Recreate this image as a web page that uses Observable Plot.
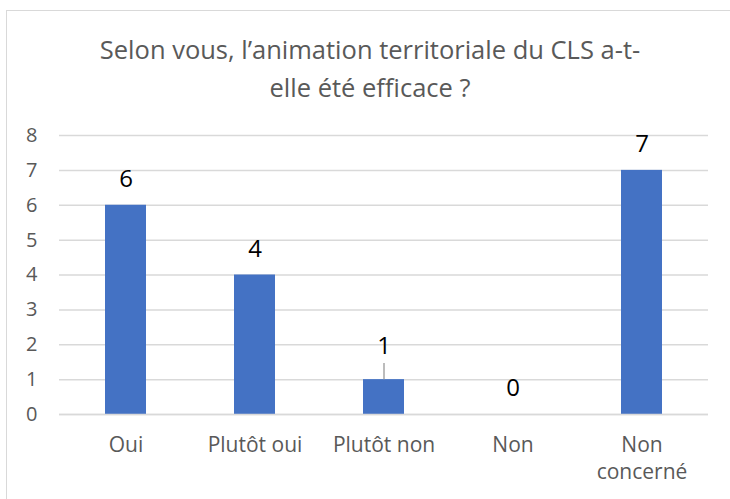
<!DOCTYPE html>
<html>
<head>
<meta charset="utf-8">
<script src="https://cdn.jsdelivr.net/npm/d3@7"></script>
<script src="https://cdn.jsdelivr.net/npm/@observablehq/plot@0.6"></script>
<style>
  html, body { margin: 0; padding: 0; background: #fff; overflow: hidden; }
  #wrap { position: relative; width: 730px; height: 499px; overflow: hidden; font-family: "Open Sans", sans-serif; }
  #frame { position: absolute; left: 6px; top: 10px; width: 760px; height: 520px; border: 1.5px solid #d9d9d9; box-sizing: border-box; }
  #title { position: absolute; left: 0; top: 30px; width: 740px; text-align: center; font-size: 25.5px; line-height: 38px; color: #595959; }
  #chart { position: absolute; left: 0; top: 120px; }
</style>
</head>
<body>
<div id="wrap">
  <div id="frame"></div>
  <div id="title"></div>
  <div id="chart"></div>
</div>
<script>
const titleLines = ["Selon vous, l’animation territoriale du CLS a-t-", "elle été efficace ?"];
const categories = ["Oui", "Plutôt oui", "Plutôt non", "Non", "Non concerné"];
const values = [6, 4, 1, 0, 7];
const yTicks = [0, 1, 2, 3, 4, 5, 6, 7, 8];
const movedLabel = "Plutôt non"; // label displaced with a leader line in the original

document.getElementById("title").innerHTML = titleLines.join("<br>");

const data = categories.map((c, i) => ({cat: c, v: values[i]}));
const normal = data.filter(d => d.cat !== movedLabel);
const moved = data.filter(d => d.cat === movedLabel);

const chart = Plot.plot({
  width: 730,
  height: 379,
  marginTop: 15,
  marginBottom: 85,
  marginLeft: 59,
  marginRight: 22,
  style: {fontFamily: "'Open Sans', sans-serif", background: "transparent", overflow: "visible"},
  x: {domain: categories, paddingInner: 0.684, paddingOuter: 0.342, label: null},
  y: {domain: [0, 8], label: null},
  marks: [
    Plot.gridY(yTicks, {stroke: "#d9d9d9", strokeOpacity: 1, strokeWidth: 1.5}),
    Plot.axisY({ticks: yTicks, tickSize: 0, tickPadding: 22, fontSize: 20, fill: "#595959", label: null}),
    Plot.axisX({tickSize: 0, tickPadding: 18, fontSize: 21, fill: "#595959", lineHeight: 1.3,
      tickFormat: d => d === "Non concerné" ? "Non\nconcerné" : d, label: null}),
    Plot.barY(data, {x: "cat", y: "v", fill: "#4472c4"}),
    Plot.ruleY([0], {stroke: "#d9d9d9", strokeWidth: 1.5}),
    Plot.text(normal, {x: "cat", y: "v", text: d => String(d.v), dy: -26, fontSize: 24, fill: "#000"}),
    Plot.text(moved, {x: "cat", y: "v", text: d => String(d.v), dy: -33, fontSize: 24, fill: "#000"}),
    Plot.ruleX(moved, {x: "cat", y1: "v", y2: d => d.v + 0.46, stroke: "#a6a6a6", strokeWidth: 1.5})
  ]
});
document.getElementById("chart").appendChild(chart);
</script>
</body>
</html>
